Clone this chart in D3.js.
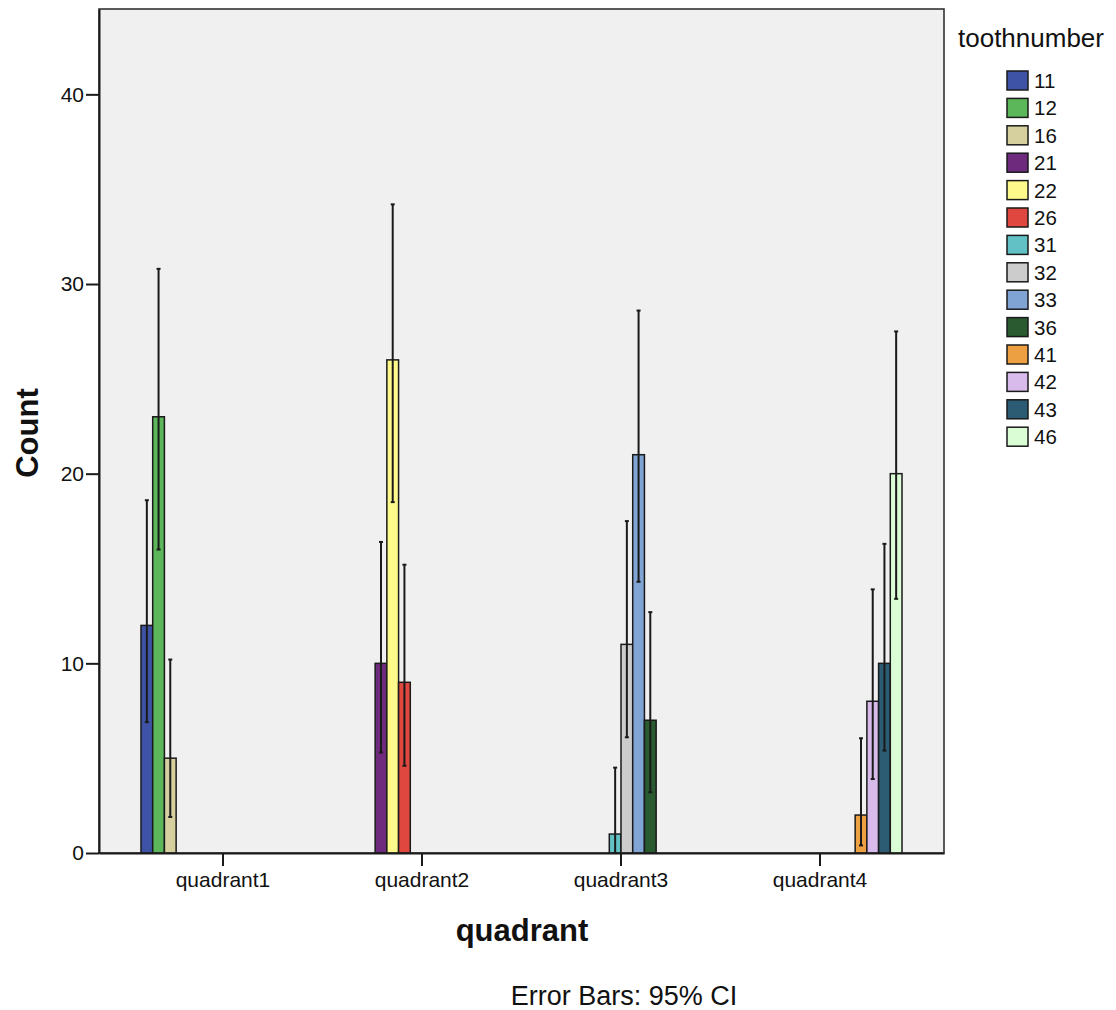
<!DOCTYPE html>
<html>
<head>
<meta charset="utf-8">
<script src="https://cdn.jsdelivr.net/npm/d3@7/dist/d3.min.js"></script>
<style>
  html, body { margin: 0; padding: 0; background: #ffffff; }
  svg { display: block; font-family: "Liberation Sans", Arial, Helvetica, sans-serif; }
</style>
</head>
<body>
<svg id="chart" width="1116" height="1010"></svg>
<script>
// ---- data ----
const quadrants = ["quadrant1", "quadrant2", "quadrant3", "quadrant4"];
const toothNumbers = ["11", "12", "16", "21", "22", "26", "31", "32", "33", "36", "41", "42", "43", "46"];
const toothColors = ["#3f53a6", "#5cb65a", "#d5d09e", "#6e2a7c", "#fdf98a", "#e0483f", "#62c1c4", "#cccccc",
                     "#80a4d4", "#2a5a30", "#eca041", "#d8bbea", "#2c5c74", "#dafdd6"];
const barQuadrant = ["quadrant1", "quadrant1", "quadrant1", "quadrant2", "quadrant2", "quadrant2",
                     "quadrant3", "quadrant3", "quadrant3", "quadrant3", "quadrant4", "quadrant4", "quadrant4", "quadrant4"];
const barTooth  = ["11", "12", "16", "21", "22", "26", "31", "32", "33", "36", "41", "42", "43", "46"];
const barCount  = [12, 23, 5, 10, 26, 9, 1, 11, 21, 7, 2, 8, 10, 20];
const ciLow     = [6.9, 16.0, 1.9, 5.3, 18.5, 4.6, 0.0, 6.1, 14.3, 3.2, 0.4, 3.9, 5.4, 13.4];
const ciHigh    = [18.6, 30.8, 10.2, 16.4, 34.2, 15.2, 4.5, 17.5, 28.6, 12.7, 6.05, 13.9, 16.3, 27.5];
const yTicks    = [0, 10, 20, 30, 40];

// ---- layout ----
const svg = d3.select("#chart");
const plot = { left: 99, right: 944, top: 9, bottom: 853 };

const x0 = d3.scaleBand().domain(quadrants).range([plot.left, plot.right])
  .paddingInner(0.176).paddingOuter(0.211);
const x1 = d3.scaleBand().domain(toothNumbers).range([0, x0.bandwidth()]).padding(0);
const y = d3.scaleLinear().domain([0, 44.5]).range([plot.bottom, plot.top]);
const color = d3.scaleOrdinal().domain(toothNumbers).range(toothColors);

// plot background
svg.append("rect")
  .attr("x", plot.left).attr("y", plot.top)
  .attr("width", plot.right - plot.left).attr("height", plot.bottom - plot.top)
  .attr("fill", "#f0f0f0").attr("stroke", "#333").attr("stroke-width", 1.6);

const bars = barCount.map((v, i) => ({ q: barQuadrant[i], t: barTooth[i], v, lo: ciLow[i], hi: ciHigh[i] }));

// bars
svg.append("g").selectAll("rect").data(bars).join("rect")
  .attr("x", d => x0(d.q) + x1(d.t))
  .attr("y", d => y(d.v))
  .attr("width", x1.bandwidth())
  .attr("height", d => y(0) - y(d.v))
  .attr("fill", d => color(d.t))
  .attr("stroke", "#1a1a1a").attr("stroke-width", 1.5);

// error bars
const eg = svg.append("g").attr("stroke", "#1a1a1a").attr("stroke-width", 2);
bars.forEach(d => {
  const cx = x0(d.q) + x1(d.t) + x1.bandwidth() / 2;
  eg.append("line").attr("x1", cx).attr("x2", cx).attr("y1", y(d.lo)).attr("y2", y(d.hi));
  eg.append("line").attr("x1", cx - 2).attr("x2", cx + 2).attr("y1", y(d.hi)).attr("y2", y(d.hi));
  eg.append("line").attr("x1", cx - 2).attr("x2", cx + 2).attr("y1", y(d.lo)).attr("y2", y(d.lo));
});

const FONT = "'Liberation Sans', Arial, Helvetica, sans-serif";

// y axis
const yAxis = d3.axisLeft(y).tickValues(yTicks).tickSize(13).tickSizeOuter(0).tickPadding(2).tickFormat(d3.format("d"));
const gy = svg.append("g").attr("transform", `translate(${plot.left},0)`).call(yAxis);
gy.select(".domain").attr("stroke", "#1a1a1a").attr("stroke-width", 2);
gy.selectAll(".tick line").attr("stroke", "#1a1a1a").attr("stroke-width", 2);
gy.selectAll(".tick text").attr("font-size", 21).attr("fill", "#111").attr("font-family", FONT);

// x axis
const xAxis = d3.axisBottom(x0).tickSize(13).tickSizeOuter(0).tickPadding(6);
const gx = svg.append("g").attr("transform", `translate(0,${plot.bottom})`).call(xAxis);
gx.select(".domain").attr("stroke", "#1a1a1a").attr("stroke-width", 2);
gx.selectAll(".tick line").attr("stroke", "#1a1a1a").attr("stroke-width", 2);
gx.selectAll(".tick text").attr("font-size", 21).attr("fill", "#111").attr("font-family", FONT);

// axis titles
svg.append("text").attr("transform", "translate(38,433) rotate(-90)")
  .attr("text-anchor", "middle").attr("font-size", 31).attr("font-weight", "bold").attr("fill", "#111")
  .text("Count");
svg.append("text").attr("x", 522).attr("y", 941)
  .attr("text-anchor", "middle").attr("font-size", 31).attr("font-weight", "bold").attr("fill", "#111")
  .text("quadrant");
svg.append("text").attr("x", 624).attr("y", 1005)
  .attr("text-anchor", "middle").attr("font-size", 27).attr("fill", "#111")
  .text("Error Bars: 95% CI");

// legend
svg.append("text").attr("x", 958).attr("y", 47).attr("font-size", 26).attr("fill", "#111").text("toothnumber");
const lg = svg.append("g").selectAll("g").data(toothNumbers).join("g")
  .attr("transform", (d, i) => `translate(1007,${71 + i * 27.4})`);
lg.append("rect").attr("width", 21).attr("height", 19)
  .attr("fill", d => color(d)).attr("stroke", "#1a1a1a").attr("stroke-width", 1.5);
lg.append("text").attr("x", 27).attr("y", 17).attr("font-size", 20.5).attr("fill", "#111").text(d => d);
</script>
</body>
</html>
